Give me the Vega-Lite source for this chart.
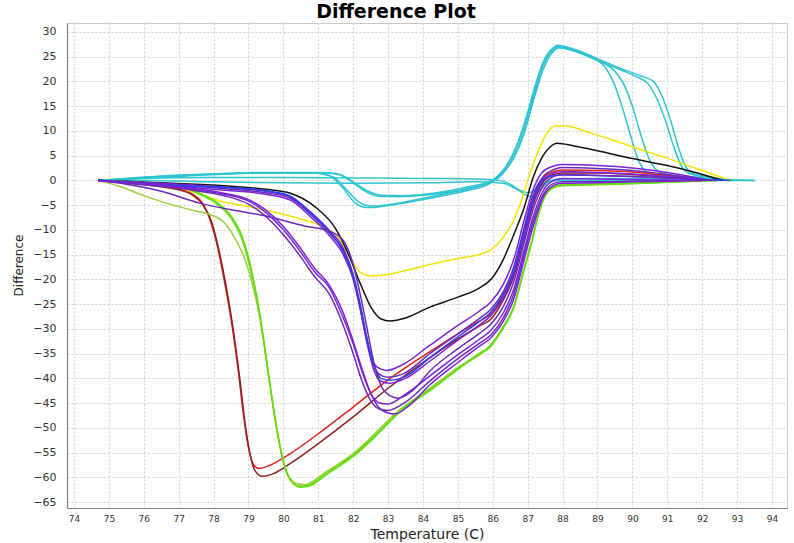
{
"$schema":"https://vega.github.io/schema/vega-lite/v6.json",
"width":720,"height":485,
"autosize":{"type":"none"},
"padding":{"left":67,"top":23,"right":7,"bottom":35},
"background":"white",
"title":{"text":"Difference Plot","font":"DejaVu Sans","fontSize":19,"fontWeight":"bold","color":"#000000","anchor":"middle","dx":-31,"offset":1},
"config":{"view":{"stroke":"#c8c8c8","strokeWidth":1},
"axis":{"domainColor":"#808080","domainWidth":1.2,"gridColor":"#d0d0d0","gridDash":[2,2],"gridWidth":1,"ticks":false,"labelFont":"DejaVu Sans","labelColor":"#333333","titleFont":"DejaVu Sans","titleColor":"#222222","titleFontWeight":"normal"}},
"data":{"values":[
{"s":"C1","g":"cyan","t":74.7,"v":0},{"s":"C1","g":"cyan","t":75.5,"v":0.4},{"s":"C1","g":"cyan","t":76.5,"v":0.8},{"s":"C1","g":"cyan","t":78,"v":1.2},{"s":"C1","g":"cyan","t":79.5,"v":1.5},{"s":"C1","g":"cyan","t":80.8,"v":1.5},{"s":"C1","g":"cyan","t":81.3,"v":1},{"s":"C1","g":"cyan","t":81.7,"v":-1.5},{"s":"C1","g":"cyan","t":82.05,"v":-4.5},{"s":"C1","g":"cyan","t":82.4,"v":-5.5},{"s":"C1","g":"cyan","t":82.8,"v":-5.3},{"s":"C1","g":"cyan","t":83.5,"v":-4.5},{"s":"C1","g":"cyan","t":84.5,"v":-3.2},{"s":"C1","g":"cyan","t":85.3,"v":-2},{"s":"C1","g":"cyan","t":85.9,"v":-0.7},{"s":"C1","g":"cyan","t":86.3,"v":1.5},{"s":"C1","g":"cyan","t":86.6,"v":4.5},{"s":"C1","g":"cyan","t":86.9,"v":9.5},{"s":"C1","g":"cyan","t":87.15,"v":16},{"s":"C1","g":"cyan","t":87.4,"v":22.5},{"s":"C1","g":"cyan","t":87.65,"v":26},{"s":"C1","g":"cyan","t":87.85,"v":27.3},{"s":"C1","g":"cyan","t":88.2,"v":26.8},{"s":"C1","g":"cyan","t":88.8,"v":25},{"s":"C1","g":"cyan","t":89.2,"v":23},{"s":"C1","g":"cyan","t":89.45,"v":20},{"s":"C1","g":"cyan","t":89.7,"v":15},{"s":"C1","g":"cyan","t":89.95,"v":9},{"s":"C1","g":"cyan","t":90.15,"v":4.5},{"s":"C1","g":"cyan","t":90.35,"v":2},{"s":"C1","g":"cyan","t":90.6,"v":1.2},{"s":"C1","g":"cyan","t":91.5,"v":0.8},{"s":"C1","g":"cyan","t":92.3,"v":0.2},{"s":"C1","g":"cyan","t":92.6,"v":0},
{"s":"C2","g":"cyan","t":74.7,"v":0},{"s":"C2","g":"cyan","t":75.5,"v":0.4},{"s":"C2","g":"cyan","t":76.5,"v":0.9},{"s":"C2","g":"cyan","t":78,"v":1.3},{"s":"C2","g":"cyan","t":79.5,"v":1.5},{"s":"C2","g":"cyan","t":80.9,"v":1.5},{"s":"C2","g":"cyan","t":81.4,"v":0.8},{"s":"C2","g":"cyan","t":81.8,"v":-1.8},{"s":"C2","g":"cyan","t":82.15,"v":-4.3},{"s":"C2","g":"cyan","t":82.5,"v":-5.2},{"s":"C2","g":"cyan","t":82.9,"v":-5},{"s":"C2","g":"cyan","t":83.6,"v":-4.2},{"s":"C2","g":"cyan","t":84.5,"v":-2.9},{"s":"C2","g":"cyan","t":85.3,"v":-1.7},{"s":"C2","g":"cyan","t":85.95,"v":-0.4},{"s":"C2","g":"cyan","t":86.35,"v":2},{"s":"C2","g":"cyan","t":86.65,"v":5.5},{"s":"C2","g":"cyan","t":86.95,"v":11},{"s":"C2","g":"cyan","t":87.2,"v":17},{"s":"C2","g":"cyan","t":87.45,"v":22.5},{"s":"C2","g":"cyan","t":87.7,"v":25.8},{"s":"C2","g":"cyan","t":87.9,"v":26.8},{"s":"C2","g":"cyan","t":88.3,"v":26.2},{"s":"C2","g":"cyan","t":88.9,"v":24.5},{"s":"C2","g":"cyan","t":89.5,"v":22},{"s":"C2","g":"cyan","t":89.75,"v":19.5},{"s":"C2","g":"cyan","t":90,"v":15},{"s":"C2","g":"cyan","t":90.25,"v":9},{"s":"C2","g":"cyan","t":90.5,"v":4},{"s":"C2","g":"cyan","t":90.75,"v":1.8},{"s":"C2","g":"cyan","t":91,"v":1.2},{"s":"C2","g":"cyan","t":92,"v":0.5},{"s":"C2","g":"cyan","t":92.6,"v":0},
{"s":"C3","g":"cyan","t":74.7,"v":0},{"s":"C3","g":"cyan","t":75.5,"v":0.3},{"s":"C3","g":"cyan","t":76.5,"v":0.7},{"s":"C3","g":"cyan","t":78,"v":1.3},{"s":"C3","g":"cyan","t":79.5,"v":1.6},{"s":"C3","g":"cyan","t":81,"v":1.6},{"s":"C3","g":"cyan","t":81.5,"v":1.4},{"s":"C3","g":"cyan","t":81.9,"v":0},{"s":"C3","g":"cyan","t":82.3,"v":-2},{"s":"C3","g":"cyan","t":82.7,"v":-3.2},{"s":"C3","g":"cyan","t":83.3,"v":-3.3},{"s":"C3","g":"cyan","t":84.3,"v":-2.8},{"s":"C3","g":"cyan","t":85.3,"v":-1.6},{"s":"C3","g":"cyan","t":85.9,"v":-0.4},{"s":"C3","g":"cyan","t":86.3,"v":2},{"s":"C3","g":"cyan","t":86.6,"v":5.5},{"s":"C3","g":"cyan","t":86.95,"v":12},{"s":"C3","g":"cyan","t":87.2,"v":18},{"s":"C3","g":"cyan","t":87.45,"v":23.5},{"s":"C3","g":"cyan","t":87.7,"v":26.2},{"s":"C3","g":"cyan","t":87.9,"v":26.8},{"s":"C3","g":"cyan","t":88.4,"v":26},{"s":"C3","g":"cyan","t":89,"v":24.3},{"s":"C3","g":"cyan","t":89.6,"v":22.5},{"s":"C3","g":"cyan","t":90.1,"v":21},{"s":"C3","g":"cyan","t":90.45,"v":19.5},{"s":"C3","g":"cyan","t":90.7,"v":16.5},{"s":"C3","g":"cyan","t":90.95,"v":12},{"s":"C3","g":"cyan","t":91.2,"v":6.5},{"s":"C3","g":"cyan","t":91.4,"v":3},{"s":"C3","g":"cyan","t":91.6,"v":1.5},{"s":"C3","g":"cyan","t":92,"v":0.8},{"s":"C3","g":"cyan","t":92.5,"v":0.2},{"s":"C3","g":"cyan","t":92.8,"v":0},
{"s":"C4","g":"cyan","t":74.7,"v":0},{"s":"C4","g":"cyan","t":75.5,"v":0.3},{"s":"C4","g":"cyan","t":76.5,"v":0.6},{"s":"C4","g":"cyan","t":78,"v":1.2},{"s":"C4","g":"cyan","t":79.5,"v":1.5},{"s":"C4","g":"cyan","t":81.1,"v":1.5},{"s":"C4","g":"cyan","t":81.6,"v":1.2},{"s":"C4","g":"cyan","t":82,"v":-0.3},{"s":"C4","g":"cyan","t":82.4,"v":-2.1},{"s":"C4","g":"cyan","t":82.8,"v":-3},{"s":"C4","g":"cyan","t":83.4,"v":-3.1},{"s":"C4","g":"cyan","t":84.4,"v":-2.5},{"s":"C4","g":"cyan","t":85.3,"v":-1.3},{"s":"C4","g":"cyan","t":85.95,"v":-0.1},{"s":"C4","g":"cyan","t":86.35,"v":2.5},{"s":"C4","g":"cyan","t":86.65,"v":6.5},{"s":"C4","g":"cyan","t":86.95,"v":12.5},{"s":"C4","g":"cyan","t":87.2,"v":18.8},{"s":"C4","g":"cyan","t":87.45,"v":24},{"s":"C4","g":"cyan","t":87.7,"v":26.6},{"s":"C4","g":"cyan","t":87.85,"v":27},{"s":"C4","g":"cyan","t":88.4,"v":26.3},{"s":"C4","g":"cyan","t":89,"v":24.6},{"s":"C4","g":"cyan","t":89.6,"v":22.8},{"s":"C4","g":"cyan","t":90.2,"v":21.2},{"s":"C4","g":"cyan","t":90.6,"v":20},{"s":"C4","g":"cyan","t":90.85,"v":17},{"s":"C4","g":"cyan","t":91.1,"v":12},{"s":"C4","g":"cyan","t":91.35,"v":6},{"s":"C4","g":"cyan","t":91.55,"v":2.5},{"s":"C4","g":"cyan","t":91.8,"v":1.2},{"s":"C4","g":"cyan","t":92.4,"v":0.5},{"s":"C4","g":"cyan","t":92.8,"v":0},
{"s":"F1","g":"cyan","t":74.7,"v":0},{"s":"F1","g":"cyan","t":75.5,"v":0.3},{"s":"F1","g":"cyan","t":76.5,"v":0.5},{"s":"F1","g":"cyan","t":78,"v":0.6},{"s":"F1","g":"cyan","t":80,"v":0.6},{"s":"F1","g":"cyan","t":82,"v":0.5},{"s":"F1","g":"cyan","t":84,"v":0.4},{"s":"F1","g":"cyan","t":85.5,"v":0.3},{"s":"F1","g":"cyan","t":86.2,"v":0},{"s":"F1","g":"cyan","t":86.6,"v":-1.2},{"s":"F1","g":"cyan","t":86.9,"v":-2.8},{"s":"F1","g":"cyan","t":87.1,"v":-3.3},{"s":"F1","g":"cyan","t":87.35,"v":-2},{"s":"F1","g":"cyan","t":87.6,"v":-0.3},{"s":"F1","g":"cyan","t":87.9,"v":0.3},{"s":"F1","g":"cyan","t":89,"v":0.4},{"s":"F1","g":"cyan","t":91,"v":0.3},{"s":"F1","g":"cyan","t":92.5,"v":0.2},{"s":"F1","g":"cyan","t":93.5,"v":0},
{"s":"F2","g":"cyan","t":74.7,"v":0},{"s":"F2","g":"cyan","t":76,"v":0},{"s":"F2","g":"cyan","t":78,"v":-0.3},{"s":"F2","g":"cyan","t":80,"v":-0.5},{"s":"F2","g":"cyan","t":82,"v":-0.6},{"s":"F2","g":"cyan","t":84,"v":-0.5},{"s":"F2","g":"cyan","t":85.5,"v":-0.3},{"s":"F2","g":"cyan","t":86.3,"v":-0.6},{"s":"F2","g":"cyan","t":86.7,"v":-1.8},{"s":"F2","g":"cyan","t":87,"v":-2.5},{"s":"F2","g":"cyan","t":87.3,"v":-1.5},{"s":"F2","g":"cyan","t":87.6,"v":-0.2},{"s":"F2","g":"cyan","t":88,"v":0},{"s":"F2","g":"cyan","t":90,"v":0},{"s":"F2","g":"cyan","t":92,"v":0},{"s":"F2","g":"cyan","t":93.5,"v":0},
{"s":"Y","g":"yellow","t":74.7,"v":0},{"s":"Y","g":"yellow","t":75.5,"v":-0.5},{"s":"Y","g":"yellow","t":76.5,"v":-1.3},{"s":"Y","g":"yellow","t":77.5,"v":-2.5},{"s":"Y","g":"yellow","t":78.2,"v":-4.2},{"s":"Y","g":"yellow","t":79,"v":-5.3},{"s":"Y","g":"yellow","t":79.9,"v":-6.7},{"s":"Y","g":"yellow","t":80.5,"v":-7.8},{"s":"Y","g":"yellow","t":81.2,"v":-9.6},{"s":"Y","g":"yellow","t":81.6,"v":-11.8},{"s":"Y","g":"yellow","t":81.9,"v":-15.5},{"s":"Y","g":"yellow","t":82.2,"v":-18.6},{"s":"Y","g":"yellow","t":82.5,"v":-19.3},{"s":"Y","g":"yellow","t":83,"v":-19},{"s":"Y","g":"yellow","t":83.5,"v":-18.2},{"s":"Y","g":"yellow","t":84.2,"v":-17},{"s":"Y","g":"yellow","t":85,"v":-15.8},{"s":"Y","g":"yellow","t":85.6,"v":-15},{"s":"Y","g":"yellow","t":85.95,"v":-14},{"s":"Y","g":"yellow","t":86.3,"v":-11.5},{"s":"Y","g":"yellow","t":86.6,"v":-8},{"s":"Y","g":"yellow","t":86.8,"v":-4.5},{"s":"Y","g":"yellow","t":87,"v":0},{"s":"Y","g":"yellow","t":87.25,"v":5},{"s":"Y","g":"yellow","t":87.5,"v":9},{"s":"Y","g":"yellow","t":87.8,"v":11},{"s":"Y","g":"yellow","t":88.1,"v":11},{"s":"Y","g":"yellow","t":88.7,"v":9.8},{"s":"Y","g":"yellow","t":89.5,"v":8},{"s":"Y","g":"yellow","t":90.2,"v":6.3},{"s":"Y","g":"yellow","t":91,"v":4.5},{"s":"Y","g":"yellow","t":91.8,"v":2.5},{"s":"Y","g":"yellow","t":92.4,"v":1},{"s":"Y","g":"yellow","t":92.8,"v":0},
{"s":"K","g":"black","t":74.7,"v":0},{"s":"K","g":"black","t":75.5,"v":-0.2},{"s":"K","g":"black","t":76.5,"v":-0.5},{"s":"K","g":"black","t":77.5,"v":-0.8},{"s":"K","g":"black","t":78.5,"v":-1.2},{"s":"K","g":"black","t":79.5,"v":-1.8},{"s":"K","g":"black","t":80.2,"v":-2.6},{"s":"K","g":"black","t":80.9,"v":-5.3},{"s":"K","g":"black","t":81.5,"v":-9.8},{"s":"K","g":"black","t":81.9,"v":-15.5},{"s":"K","g":"black","t":82.2,"v":-20.8},{"s":"K","g":"black","t":82.5,"v":-25.5},{"s":"K","g":"black","t":82.8,"v":-28},{"s":"K","g":"black","t":83.05,"v":-28.4},{"s":"K","g":"black","t":83.5,"v":-27.8},{"s":"K","g":"black","t":84.2,"v":-25.6},{"s":"K","g":"black","t":85,"v":-23.6},{"s":"K","g":"black","t":85.6,"v":-21.8},{"s":"K","g":"black","t":85.95,"v":-20},{"s":"K","g":"black","t":86.3,"v":-16},{"s":"K","g":"black","t":86.6,"v":-11},{"s":"K","g":"black","t":86.9,"v":-5.5},{"s":"K","g":"black","t":87.15,"v":0.5},{"s":"K","g":"black","t":87.4,"v":4.5},{"s":"K","g":"black","t":87.65,"v":6.8},{"s":"K","g":"black","t":87.85,"v":7.5},{"s":"K","g":"black","t":88.3,"v":7},{"s":"K","g":"black","t":89,"v":6},{"s":"K","g":"black","t":90,"v":4.4},{"s":"K","g":"black","t":91,"v":3},{"s":"K","g":"black","t":91.8,"v":1.6},{"s":"K","g":"black","t":92.3,"v":0.6},{"s":"K","g":"black","t":92.6,"v":0},
{"s":"R1","g":"red","t":74.7,"v":0},{"s":"R1","g":"red","t":75.5,"v":-0.4},{"s":"R1","g":"red","t":76.3,"v":-1},{"s":"R1","g":"red","t":77,"v":-1.8},{"s":"R1","g":"red","t":77.4,"v":-2.8},{"s":"R1","g":"red","t":77.7,"v":-4.8},{"s":"R1","g":"red","t":77.9,"v":-8},{"s":"R1","g":"red","t":78.1,"v":-13},{"s":"R1","g":"red","t":78.3,"v":-20},{"s":"R1","g":"red","t":78.5,"v":-28},{"s":"R1","g":"red","t":78.7,"v":-38},{"s":"R1","g":"red","t":78.85,"v":-47},{"s":"R1","g":"red","t":79,"v":-54},{"s":"R1","g":"red","t":79.15,"v":-57.5},{"s":"R1","g":"red","t":79.3,"v":-58.2},{"s":"R1","g":"red","t":79.6,"v":-57.6},{"s":"R1","g":"red","t":80.2,"v":-55.2},{"s":"R1","g":"red","t":81,"v":-51.2},{"s":"R1","g":"red","t":82,"v":-45.8},{"s":"R1","g":"red","t":83,"v":-40.3},{"s":"R1","g":"red","t":84.2,"v":-34.6},{"s":"R1","g":"red","t":85,"v":-31},{"s":"R1","g":"red","t":85.6,"v":-28.5},{"s":"R1","g":"red","t":85.95,"v":-27},{"s":"R1","g":"red","t":86.3,"v":-23.3},{"s":"R1","g":"red","t":86.6,"v":-18.5},{"s":"R1","g":"red","t":86.9,"v":-10.5},{"s":"R1","g":"red","t":87.15,"v":-4},{"s":"R1","g":"red","t":87.45,"v":0.5},{"s":"R1","g":"red","t":87.75,"v":1.8},{"s":"R1","g":"red","t":88,"v":2.1},{"s":"R1","g":"red","t":89,"v":2},{"s":"R1","g":"red","t":90,"v":1.7},{"s":"R1","g":"red","t":91,"v":1},{"s":"R1","g":"red","t":91.8,"v":0.3},{"s":"R1","g":"red","t":92.2,"v":0},
{"s":"R2","g":"darkred","t":74.7,"v":0},{"s":"R2","g":"darkred","t":75.5,"v":-0.4},{"s":"R2","g":"darkred","t":76.3,"v":-1.1},{"s":"R2","g":"darkred","t":77,"v":-1.9},{"s":"R2","g":"darkred","t":77.4,"v":-3},{"s":"R2","g":"darkred","t":77.7,"v":-5},{"s":"R2","g":"darkred","t":77.95,"v":-8.5},{"s":"R2","g":"darkred","t":78.15,"v":-14},{"s":"R2","g":"darkred","t":78.35,"v":-21},{"s":"R2","g":"darkred","t":78.55,"v":-29.5},{"s":"R2","g":"darkred","t":78.75,"v":-40},{"s":"R2","g":"darkred","t":78.9,"v":-49},{"s":"R2","g":"darkred","t":79.05,"v":-55.5},{"s":"R2","g":"darkred","t":79.2,"v":-58.8},{"s":"R2","g":"darkred","t":79.4,"v":-59.8},{"s":"R2","g":"darkred","t":79.7,"v":-59.3},{"s":"R2","g":"darkred","t":80.2,"v":-57.2},{"s":"R2","g":"darkred","t":81,"v":-53.2},{"s":"R2","g":"darkred","t":82,"v":-47.8},{"s":"R2","g":"darkred","t":83,"v":-42},{"s":"R2","g":"darkred","t":84.2,"v":-35.8},{"s":"R2","g":"darkred","t":85,"v":-32},{"s":"R2","g":"darkred","t":85.6,"v":-29.5},{"s":"R2","g":"darkred","t":85.95,"v":-28},{"s":"R2","g":"darkred","t":86.3,"v":-24.2},{"s":"R2","g":"darkred","t":86.6,"v":-19.5},{"s":"R2","g":"darkred","t":86.9,"v":-11.5},{"s":"R2","g":"darkred","t":87.15,"v":-5},{"s":"R2","g":"darkred","t":87.45,"v":-0.3},{"s":"R2","g":"darkred","t":87.75,"v":1.2},{"s":"R2","g":"darkred","t":88,"v":1.5},{"s":"R2","g":"darkred","t":89,"v":1.5},{"s":"R2","g":"darkred","t":90,"v":1.2},{"s":"R2","g":"darkred","t":91,"v":0.7},{"s":"R2","g":"darkred","t":91.8,"v":0.2},{"s":"R2","g":"darkred","t":92.2,"v":0},
{"s":"G3","g":"lightgreen","t":74.7,"v":0},{"s":"G3","g":"lightgreen","t":75.3,"v":-1.2},{"s":"G3","g":"lightgreen","t":75.9,"v":-2.8},{"s":"G3","g":"lightgreen","t":76.5,"v":-4.3},{"s":"G3","g":"lightgreen","t":77,"v":-5.3},{"s":"G3","g":"lightgreen","t":77.5,"v":-6.2},{"s":"G3","g":"lightgreen","t":77.9,"v":-6.9},{"s":"G3","g":"lightgreen","t":78.3,"v":-8.5},{"s":"G3","g":"lightgreen","t":78.6,"v":-11.5},{"s":"G3","g":"lightgreen","t":78.9,"v":-16},{"s":"G3","g":"lightgreen","t":79.15,"v":-22},{"s":"G3","g":"lightgreen","t":79.4,"v":-31},{"s":"G3","g":"lightgreen","t":79.65,"v":-43},{"s":"G3","g":"lightgreen","t":79.9,"v":-53.5},{"s":"G3","g":"lightgreen","t":80.1,"v":-59},{"s":"G3","g":"lightgreen","t":80.35,"v":-61.2},{"s":"G3","g":"lightgreen","t":80.6,"v":-61.5},{"s":"G3","g":"lightgreen","t":81.2,"v":-59},{"s":"G3","g":"lightgreen","t":82,"v":-55.2},{"s":"G3","g":"lightgreen","t":83.34,"v":-46.3},{"s":"G3","g":"lightgreen","t":84.2,"v":-42},{"s":"G3","g":"lightgreen","t":85,"v":-37.8},{"s":"G3","g":"lightgreen","t":85.95,"v":-33.1},{"s":"G3","g":"lightgreen","t":86.6,"v":-25.4},{"s":"G3","g":"lightgreen","t":87.1,"v":-12.6},{"s":"G3","g":"lightgreen","t":87.5,"v":-2.9},{"s":"G3","g":"lightgreen","t":88,"v":-0.9},{"s":"G3","g":"lightgreen","t":90,"v":-0.5},{"s":"G3","g":"lightgreen","t":92.3,"v":0},
{"s":"G1","g":"green","t":74.7,"v":0},{"s":"G1","g":"green","t":75.5,"v":-0.3},{"s":"G1","g":"green","t":76.5,"v":-0.8},{"s":"G1","g":"green","t":77.2,"v":-1.5},{"s":"G1","g":"green","t":77.6,"v":-2.6},{"s":"G1","g":"green","t":78.1,"v":-4.5},{"s":"G1","g":"green","t":78.5,"v":-7.2},{"s":"G1","g":"green","t":78.8,"v":-11},{"s":"G1","g":"green","t":79.05,"v":-17},{"s":"G1","g":"green","t":79.25,"v":-24},{"s":"G1","g":"green","t":79.5,"v":-35.5},{"s":"G1","g":"green","t":79.75,"v":-47.5},{"s":"G1","g":"green","t":80,"v":-57},{"s":"G1","g":"green","t":80.2,"v":-60.5},{"s":"G1","g":"green","t":80.45,"v":-61.8},{"s":"G1","g":"green","t":80.7,"v":-61.6},{"s":"G1","g":"green","t":81.2,"v":-59.3},{"s":"G1","g":"green","t":82,"v":-55.5},{"s":"G1","g":"green","t":82.7,"v":-51},{"s":"G1","g":"green","t":83.34,"v":-46.5},{"s":"G1","g":"green","t":84.2,"v":-42.2},{"s":"G1","g":"green","t":85,"v":-38},{"s":"G1","g":"green","t":85.6,"v":-35},{"s":"G1","g":"green","t":85.95,"v":-33.3},{"s":"G1","g":"green","t":86.3,"v":-29.5},{"s":"G1","g":"green","t":86.6,"v":-25.6},{"s":"G1","g":"green","t":86.85,"v":-19},{"s":"G1","g":"green","t":87.1,"v":-12.8},{"s":"G1","g":"green","t":87.3,"v":-7},{"s":"G1","g":"green","t":87.5,"v":-3},{"s":"G1","g":"green","t":87.75,"v":-1.3},{"s":"G1","g":"green","t":88,"v":-1},{"s":"G1","g":"green","t":89,"v":-0.8},{"s":"G1","g":"green","t":90,"v":-0.6},{"s":"G1","g":"green","t":91,"v":-0.4},{"s":"G1","g":"green","t":92,"v":-0.1},{"s":"G1","g":"green","t":92.3,"v":0},
{"s":"G2","g":"green","t":74.7,"v":0},{"s":"G2","g":"green","t":75.5,"v":-0.3},{"s":"G2","g":"green","t":76.5,"v":-0.9},{"s":"G2","g":"green","t":77.2,"v":-1.6},{"s":"G2","g":"green","t":77.6,"v":-2.8},{"s":"G2","g":"green","t":78.1,"v":-4.8},{"s":"G2","g":"green","t":78.5,"v":-7.6},{"s":"G2","g":"green","t":78.8,"v":-11.6},{"s":"G2","g":"green","t":79.05,"v":-17.8},{"s":"G2","g":"green","t":79.3,"v":-26},{"s":"G2","g":"green","t":79.55,"v":-38},{"s":"G2","g":"green","t":79.8,"v":-50},{"s":"G2","g":"green","t":80.05,"v":-58},{"s":"G2","g":"green","t":80.25,"v":-61},{"s":"G2","g":"green","t":80.5,"v":-62},{"s":"G2","g":"green","t":80.8,"v":-61.6},{"s":"G2","g":"green","t":81.2,"v":-59.6},{"s":"G2","g":"green","t":82,"v":-55.8},{"s":"G2","g":"green","t":82.7,"v":-51.3},{"s":"G2","g":"green","t":83.34,"v":-46.8},{"s":"G2","g":"green","t":84.2,"v":-42.5},{"s":"G2","g":"green","t":85,"v":-38.2},{"s":"G2","g":"green","t":85.6,"v":-35.2},{"s":"G2","g":"green","t":85.95,"v":-33.5},{"s":"G2","g":"green","t":86.3,"v":-29.8},{"s":"G2","g":"green","t":86.6,"v":-25.8},{"s":"G2","g":"green","t":86.85,"v":-19.3},{"s":"G2","g":"green","t":87.1,"v":-13},{"s":"G2","g":"green","t":87.3,"v":-7.2},{"s":"G2","g":"green","t":87.5,"v":-3.2},{"s":"G2","g":"green","t":87.75,"v":-1.4},{"s":"G2","g":"green","t":88,"v":-1.1},{"s":"G2","g":"green","t":89,"v":-0.9},{"s":"G2","g":"green","t":90,"v":-0.7},{"s":"G2","g":"green","t":91,"v":-0.4},{"s":"G2","g":"green","t":92,"v":-0.1},{"s":"G2","g":"green","t":92.3,"v":0},
{"s":"P1","g":"purple","t":74.7,"v":0},{"s":"P1","g":"purple","t":75.5,"v":-0.3},{"s":"P1","g":"purple","t":76.5,"v":-0.6},{"s":"P1","g":"purple","t":77.5,"v":-1},{"s":"P1","g":"purple","t":78.5,"v":-1.5},{"s":"P1","g":"purple","t":79.5,"v":-2.2},{"s":"P1","g":"purple","t":80.2,"v":-3.3},{"s":"P1","g":"purple","t":80.8,"v":-6.5},{"s":"P1","g":"purple","t":81.3,"v":-10},{"s":"P1","g":"purple","t":81.7,"v":-13.5},{"s":"P1","g":"purple","t":81.95,"v":-18},{"s":"P1","g":"purple","t":82.15,"v":-24},{"s":"P1","g":"purple","t":82.35,"v":-31},{"s":"P1","g":"purple","t":82.5,"v":-35.5},{"s":"P1","g":"purple","t":82.7,"v":-37.8},{"s":"P1","g":"purple","t":82.95,"v":-38.4},{"s":"P1","g":"purple","t":83.4,"v":-37.3},{"s":"P1","g":"purple","t":84.2,"v":-33.3},{"s":"P1","g":"purple","t":85,"v":-29.3},{"s":"P1","g":"purple","t":85.6,"v":-26.5},{"s":"P1","g":"purple","t":85.95,"v":-24.5},{"s":"P1","g":"purple","t":86.3,"v":-21},{"s":"P1","g":"purple","t":86.6,"v":-16},{"s":"P1","g":"purple","t":86.9,"v":-8},{"s":"P1","g":"purple","t":87.15,"v":-2},{"s":"P1","g":"purple","t":87.4,"v":1.5},{"s":"P1","g":"purple","t":87.7,"v":2.8},{"s":"P1","g":"purple","t":88,"v":3.2},{"s":"P1","g":"purple","t":89,"v":3},{"s":"P1","g":"purple","t":90,"v":2.5},{"s":"P1","g":"purple","t":91,"v":1.6},{"s":"P1","g":"purple","t":91.8,"v":0.6},{"s":"P1","g":"purple","t":92.2,"v":0},
{"s":"P2","g":"purple2","t":74.7,"v":0},{"s":"P2","g":"purple2","t":75.5,"v":-0.4},{"s":"P2","g":"purple2","t":76.5,"v":-0.8},{"s":"P2","g":"purple2","t":77.5,"v":-1.2},{"s":"P2","g":"purple2","t":78.5,"v":-1.8},{"s":"P2","g":"purple2","t":79.5,"v":-2.5},{"s":"P2","g":"purple2","t":80.2,"v":-3.6},{"s":"P2","g":"purple2","t":80.8,"v":-7},{"s":"P2","g":"purple2","t":81.3,"v":-10.5},{"s":"P2","g":"purple2","t":81.7,"v":-14},{"s":"P2","g":"purple2","t":82,"v":-19},{"s":"P2","g":"purple2","t":82.2,"v":-25},{"s":"P2","g":"purple2","t":82.4,"v":-32},{"s":"P2","g":"purple2","t":82.55,"v":-36.5},{"s":"P2","g":"purple2","t":82.75,"v":-39.2},{"s":"P2","g":"purple2","t":83,"v":-39.8},{"s":"P2","g":"purple2","t":83.4,"v":-39.2},{"s":"P2","g":"purple2","t":84.2,"v":-35},{"s":"P2","g":"purple2","t":85,"v":-31},{"s":"P2","g":"purple2","t":85.6,"v":-28},{"s":"P2","g":"purple2","t":85.95,"v":-26},{"s":"P2","g":"purple2","t":86.3,"v":-22.5},{"s":"P2","g":"purple2","t":86.6,"v":-17.5},{"s":"P2","g":"purple2","t":86.9,"v":-9.5},{"s":"P2","g":"purple2","t":87.15,"v":-3},{"s":"P2","g":"purple2","t":87.45,"v":0.8},{"s":"P2","g":"purple2","t":87.75,"v":2.2},{"s":"P2","g":"purple2","t":88,"v":2.6},{"s":"P2","g":"purple2","t":89,"v":2.4},{"s":"P2","g":"purple2","t":90,"v":2},{"s":"P2","g":"purple2","t":91,"v":1.2},{"s":"P2","g":"purple2","t":91.8,"v":0.4},{"s":"P2","g":"purple2","t":92.2,"v":0},
{"s":"P3","g":"purple","t":74.7,"v":0},{"s":"P3","g":"purple","t":75.5,"v":-0.5},{"s":"P3","g":"purple","t":76.5,"v":-1},{"s":"P3","g":"purple","t":77.5,"v":-1.5},{"s":"P3","g":"purple","t":78.5,"v":-2.1},{"s":"P3","g":"purple","t":79.5,"v":-2.8},{"s":"P3","g":"purple","t":80.2,"v":-4},{"s":"P3","g":"purple","t":80.8,"v":-7.5},{"s":"P3","g":"purple","t":81.3,"v":-11},{"s":"P3","g":"purple","t":81.7,"v":-14.8},{"s":"P3","g":"purple","t":82,"v":-20},{"s":"P3","g":"purple","t":82.2,"v":-26},{"s":"P3","g":"purple","t":82.4,"v":-33},{"s":"P3","g":"purple","t":82.6,"v":-38.5},{"s":"P3","g":"purple","t":82.8,"v":-40.6},{"s":"P3","g":"purple","t":83.05,"v":-41},{"s":"P3","g":"purple","t":83.5,"v":-40},{"s":"P3","g":"purple","t":84.2,"v":-36.5},{"s":"P3","g":"purple","t":85,"v":-32.3},{"s":"P3","g":"purple","t":85.6,"v":-29.3},{"s":"P3","g":"purple","t":85.95,"v":-27.3},{"s":"P3","g":"purple","t":86.3,"v":-23.8},{"s":"P3","g":"purple","t":86.6,"v":-19},{"s":"P3","g":"purple","t":86.9,"v":-11},{"s":"P3","g":"purple","t":87.15,"v":-4.5},{"s":"P3","g":"purple","t":87.45,"v":0},{"s":"P3","g":"purple","t":87.75,"v":1.5},{"s":"P3","g":"purple","t":88,"v":1.8},{"s":"P3","g":"purple","t":89,"v":1.6},{"s":"P3","g":"purple","t":90,"v":1.3},{"s":"P3","g":"purple","t":91,"v":0.8},{"s":"P3","g":"purple","t":92,"v":0.2},{"s":"P3","g":"purple","t":92.4,"v":0},
{"s":"B","g":"blue","t":74.7,"v":0},{"s":"B","g":"blue","t":75.5,"v":-0.5},{"s":"B","g":"blue","t":76.5,"v":-0.9},{"s":"B","g":"blue","t":77.5,"v":-1.2},{"s":"B","g":"blue","t":78.5,"v":-1.5},{"s":"B","g":"blue","t":79.5,"v":-2.1},{"s":"B","g":"blue","t":80.2,"v":-3.2},{"s":"B","g":"blue","t":80.8,"v":-6.8},{"s":"B","g":"blue","t":81.3,"v":-10.3},{"s":"B","g":"blue","t":81.7,"v":-14.2},{"s":"B","g":"blue","t":82,"v":-19.5},{"s":"B","g":"blue","t":82.2,"v":-25.5},{"s":"B","g":"blue","t":82.4,"v":-32.5},{"s":"B","g":"blue","t":82.6,"v":-37.5},{"s":"B","g":"blue","t":82.8,"v":-40},{"s":"B","g":"blue","t":83.05,"v":-40.4},{"s":"B","g":"blue","t":83.5,"v":-39.6},{"s":"B","g":"blue","t":84.2,"v":-35.8},{"s":"B","g":"blue","t":85,"v":-31.6},{"s":"B","g":"blue","t":85.6,"v":-28.6},{"s":"B","g":"blue","t":85.95,"v":-26.6},{"s":"B","g":"blue","t":86.3,"v":-23},{"s":"B","g":"blue","t":86.6,"v":-18.3},{"s":"B","g":"blue","t":86.9,"v":-10.2},{"s":"B","g":"blue","t":87.15,"v":-3.8},{"s":"B","g":"blue","t":87.45,"v":0.3},{"s":"B","g":"blue","t":87.75,"v":1},{"s":"B","g":"blue","t":88,"v":1.1},{"s":"B","g":"blue","t":89,"v":1},{"s":"B","g":"blue","t":90,"v":0.8},{"s":"B","g":"blue","t":91,"v":0.5},{"s":"B","g":"blue","t":92,"v":0.2},{"s":"B","g":"blue","t":92.8,"v":0},
{"s":"PL","g":"purple2","t":74.7,"v":0},{"s":"PL","g":"purple2","t":75.5,"v":-0.8},{"s":"PL","g":"purple2","t":76.5,"v":-2.2},{"s":"PL","g":"purple2","t":77.6,"v":-4.6},{"s":"PL","g":"purple2","t":78.8,"v":-6.3},{"s":"PL","g":"purple2","t":79.5,"v":-7.2},{"s":"PL","g":"purple2","t":80.2,"v":-8.5},{"s":"PL","g":"purple2","t":80.6,"v":-9.2},{"s":"PL","g":"purple2","t":81.3,"v":-10.2},{"s":"PL","g":"purple2","t":81.7,"v":-12},{"s":"PL","g":"purple2","t":82,"v":-17},{"s":"PL","g":"purple2","t":82.2,"v":-23},{"s":"PL","g":"purple2","t":82.4,"v":-30},{"s":"PL","g":"purple2","t":82.6,"v":-37},{"s":"PL","g":"purple2","t":82.8,"v":-41.5},{"s":"PL","g":"purple2","t":83.05,"v":-43.5},{"s":"PL","g":"purple2","t":83.3,"v":-44},{"s":"PL","g":"purple2","t":83.7,"v":-42.5},{"s":"PL","g":"purple2","t":84.2,"v":-38.5},{"s":"PL","g":"purple2","t":85,"v":-34},{"s":"PL","g":"purple2","t":85.6,"v":-31},{"s":"PL","g":"purple2","t":85.95,"v":-29},{"s":"PL","g":"purple2","t":86.3,"v":-25.5},{"s":"PL","g":"purple2","t":86.6,"v":-20.5},{"s":"PL","g":"purple2","t":86.9,"v":-12.5},{"s":"PL","g":"purple2","t":87.15,"v":-6},{"s":"PL","g":"purple2","t":87.45,"v":-1},{"s":"PL","g":"purple2","t":87.75,"v":0.8},{"s":"PL","g":"purple2","t":88,"v":1.2},{"s":"PL","g":"purple2","t":89,"v":1},{"s":"PL","g":"purple2","t":90,"v":0.8},{"s":"PL","g":"purple2","t":91,"v":0.5},{"s":"PL","g":"purple2","t":92,"v":0.1},{"s":"PL","g":"purple2","t":92.4,"v":0},
{"s":"P4","g":"purple","t":74.7,"v":0},{"s":"P4","g":"purple","t":75.5,"v":-0.5},{"s":"P4","g":"purple","t":76.5,"v":-1.1},{"s":"P4","g":"purple","t":77.5,"v":-1.9},{"s":"P4","g":"purple","t":78.3,"v":-2.8},{"s":"P4","g":"purple","t":79,"v":-4.2},{"s":"P4","g":"purple","t":79.5,"v":-6.5},{"s":"P4","g":"purple","t":80,"v":-10},{"s":"P4","g":"purple","t":80.5,"v":-14.5},{"s":"P4","g":"purple","t":80.9,"v":-18.5},{"s":"P4","g":"purple","t":81.3,"v":-21.5},{"s":"P4","g":"purple","t":81.7,"v":-27.5},{"s":"P4","g":"purple","t":82,"v":-33},{"s":"P4","g":"purple","t":82.25,"v":-38.5},{"s":"P4","g":"purple","t":82.5,"v":-43},{"s":"P4","g":"purple","t":82.75,"v":-45},{"s":"P4","g":"purple","t":83,"v":-45.2},{"s":"P4","g":"purple","t":83.5,"v":-43.2},{"s":"P4","g":"purple","t":84.2,"v":-39.5},{"s":"P4","g":"purple","t":85,"v":-35.2},{"s":"P4","g":"purple","t":85.6,"v":-32.2},{"s":"P4","g":"purple","t":85.95,"v":-30.3},{"s":"P4","g":"purple","t":86.3,"v":-26.8},{"s":"P4","g":"purple","t":86.6,"v":-22},{"s":"P4","g":"purple","t":86.9,"v":-14},{"s":"P4","g":"purple","t":87.15,"v":-7.5},{"s":"P4","g":"purple","t":87.45,"v":-2},{"s":"P4","g":"purple","t":87.75,"v":0},{"s":"P4","g":"purple","t":88,"v":0.4},{"s":"P4","g":"purple","t":89,"v":0.3},{"s":"P4","g":"purple","t":90,"v":0.2},{"s":"P4","g":"purple","t":91,"v":0.1},{"s":"P4","g":"purple","t":92,"v":0},
{"s":"P5","g":"purple2","t":74.7,"v":0},{"s":"P5","g":"purple2","t":75.5,"v":-0.6},{"s":"P5","g":"purple2","t":76.5,"v":-1.2},{"s":"P5","g":"purple2","t":77.5,"v":-2.1},{"s":"P5","g":"purple2","t":78.3,"v":-3.1},{"s":"P5","g":"purple2","t":79,"v":-4.8},{"s":"P5","g":"purple2","t":79.5,"v":-7.3},{"s":"P5","g":"purple2","t":80,"v":-11},{"s":"P5","g":"purple2","t":80.5,"v":-15.5},{"s":"P5","g":"purple2","t":80.9,"v":-19.5},{"s":"P5","g":"purple2","t":81.3,"v":-22.8},{"s":"P5","g":"purple2","t":81.7,"v":-29},{"s":"P5","g":"purple2","t":82,"v":-35},{"s":"P5","g":"purple2","t":82.25,"v":-40.5},{"s":"P5","g":"purple2","t":82.5,"v":-44.5},{"s":"P5","g":"purple2","t":82.75,"v":-46.2},{"s":"P5","g":"purple2","t":83,"v":-46.5},{"s":"P5","g":"purple2","t":83.5,"v":-44.8},{"s":"P5","g":"purple2","t":84.2,"v":-40.5},{"s":"P5","g":"purple2","t":85,"v":-36},{"s":"P5","g":"purple2","t":85.6,"v":-33},{"s":"P5","g":"purple2","t":85.95,"v":-31.2},{"s":"P5","g":"purple2","t":86.3,"v":-27.8},{"s":"P5","g":"purple2","t":86.6,"v":-23},{"s":"P5","g":"purple2","t":86.9,"v":-15},{"s":"P5","g":"purple2","t":87.15,"v":-8.5},{"s":"P5","g":"purple2","t":87.45,"v":-2.8},{"s":"P5","g":"purple2","t":87.75,"v":-0.6},{"s":"P5","g":"purple2","t":88,"v":-0.3},{"s":"P5","g":"purple2","t":89,"v":-0.3},{"s":"P5","g":"purple2","t":90,"v":-0.2},{"s":"P5","g":"purple2","t":91,"v":-0.1},{"s":"P5","g":"purple2","t":92,"v":0},
{"s":"P6","g":"purple","t":74.7,"v":0},{"s":"P6","g":"purple","t":75.5,"v":-0.4},{"s":"P6","g":"purple","t":76.5,"v":-1},{"s":"P6","g":"purple","t":77.5,"v":-1.7},{"s":"P6","g":"purple","t":78.3,"v":-2.6},{"s":"P6","g":"purple","t":79,"v":-3.9},{"s":"P6","g":"purple","t":79.5,"v":-6},{"s":"P6","g":"purple","t":80,"v":-9.3},{"s":"P6","g":"purple","t":80.5,"v":-13.8},{"s":"P6","g":"purple","t":80.9,"v":-17.8},{"s":"P6","g":"purple","t":81.3,"v":-21},{"s":"P6","g":"purple","t":81.7,"v":-26.5},{"s":"P6","g":"purple","t":82,"v":-32.5},{"s":"P6","g":"purple","t":82.25,"v":-38},{"s":"P6","g":"purple","t":82.5,"v":-43},{"s":"P6","g":"purple","t":82.75,"v":-46},{"s":"P6","g":"purple","t":83,"v":-47},{"s":"P6","g":"purple","t":83.2,"v":-47.2},{"s":"P6","g":"purple","t":83.6,"v":-45.5},{"s":"P6","g":"purple","t":84.2,"v":-41.3},{"s":"P6","g":"purple","t":85,"v":-36.8},{"s":"P6","g":"purple","t":85.6,"v":-33.6},{"s":"P6","g":"purple","t":85.95,"v":-31.8},{"s":"P6","g":"purple","t":86.3,"v":-28.5},{"s":"P6","g":"purple","t":86.6,"v":-24},{"s":"P6","g":"purple","t":86.9,"v":-16},{"s":"P6","g":"purple","t":87.15,"v":-9.5},{"s":"P6","g":"purple","t":87.45,"v":-3.3},{"s":"P6","g":"purple","t":87.75,"v":-1},{"s":"P6","g":"purple","t":88,"v":-0.6},{"s":"P6","g":"purple","t":89,"v":-0.5},{"s":"P6","g":"purple","t":90,"v":-0.3},{"s":"P6","g":"purple","t":91,"v":-0.2},{"s":"P6","g":"purple","t":92,"v":0}
]},
"mark":{"type":"line","interpolate":"monotone","strokeWidth":1.5,"clip":true},
"encoding":{
"x":{"field":"t","type":"quantitative","scale":{"domain":[73.8,94.43],"nice":false,"zero":false},
"axis":{"values":[74,75,76,77,78,79,80,81,82,83,84,85,86,87,88,89,90,91,92,93,94],"title":"Temperature (C)","titleFontSize":14,"labelFontSize":9,"labelPadding":6,"titleY":30,"titleBaseline":"alphabetic"}},
"y":{"field":"v","type":"quantitative","scale":{"domain":[-66.2,31.8],"nice":false,"zero":false},
"axis":{"values":[-65,-60,-55,-50,-45,-40,-35,-30,-25,-20,-15,-10,-5,0,5,10,15,20,25,30],"title":"Difference","titleFontSize":12,"labelFontSize":11,"labelPadding":11,"titleX":-49,"titleY":242,"titleAngle":-90,"titleAlign":"center","titleBaseline":"middle"}},
"color":{"field":"g","type":"nominal","legend":null,"scale":{"domain":["cyan","yellow","black","red","darkred","lightgreen","green","purple","purple2","blue"],"range":["#2ec4cf","#f2e600","#111111","#e0201c","#8e1f1f","#9fcc44","#66dd11","#7a22d6","#6a2ab8","#2c3ff0"]}},
"detail":{"field":"s","type":"nominal"}
}
}
